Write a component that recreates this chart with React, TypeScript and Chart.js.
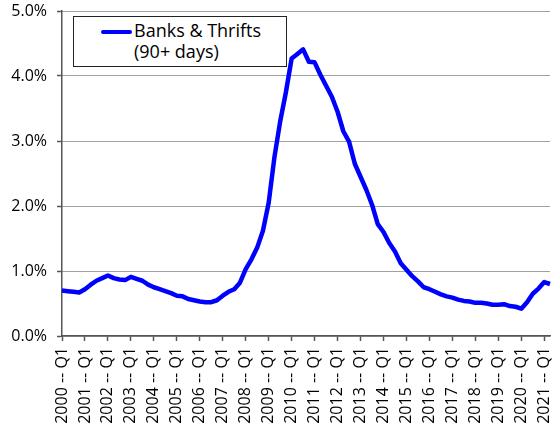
import { useEffect, useRef } from 'react';
import { Chart, registerables } from 'chart.js';

Chart.register(...registerables);

// ---- data: quarterly, 2000 Q1 .. 2021 Q2 ----
const YEARS = [
  2000, 2001, 2002, 2003, 2004, 2005, 2006, 2007, 2008, 2009, 2010,
  2011, 2012, 2013, 2014, 2015, 2016, 2017, 2018, 2019, 2020, 2021,
];
const QUARTERS = ['Q1', 'Q2', 'Q3', 'Q4'];
const LAST_QUARTER_2021 = 2; // series stops at 2021 Q2

const LABELS: string[] = [];
YEARS.forEach(y => {
  const n = y === 2021 ? LAST_QUARTER_2021 : 4;
  for (let q = 0; q < n; q++) LABELS.push(`${y} -- ${QUARTERS[q]}`);
});

const SERIES_NAME = ['Banks & Thrifts', '(90+ days)'];

// percent of balance 90+ days delinquent
const BANKS_THRIFTS = [
  0.70, 0.69, 0.68, 0.67, // 2000
  0.72, 0.79, 0.85, 0.89, // 2001
  0.93, 0.89, 0.87, 0.86, // 2002
  0.91, 0.88, 0.85, 0.79, // 2003
  0.75, 0.72, 0.69, 0.66, // 2004
  0.62, 0.61, 0.57, 0.55, // 2005
  0.53, 0.52, 0.52, 0.55, // 2006
  0.62, 0.68, 0.72, 0.82, // 2007
  1.03, 1.18, 1.36, 1.62, // 2008
  2.05, 2.75, 3.30, 3.75, // 2009
  4.27, 4.34, 4.41, 4.22, // 2010
  4.21, 4.02, 3.85, 3.68, // 2011
  3.45, 3.15, 2.99, 2.65, // 2012
  2.45, 2.25, 2.02, 1.72, // 2013
  1.60, 1.43, 1.30, 1.12, // 2014
  1.02, 0.92, 0.84, 0.75, // 2015
  0.72, 0.68, 0.64, 0.61, // 2016
  0.59, 0.56, 0.54, 0.53, // 2017
  0.51, 0.51, 0.50, 0.48, // 2018
  0.48, 0.49, 0.46, 0.45, // 2019
  0.42, 0.52, 0.65, 0.73, // 2020
  0.83, 0.80,             // 2021
];

const Y_MIN = 0;
const Y_MAX = 5;
const Y_STEP = 1;

const FONT = "'Open Sans', sans-serif";
const AXIS = '#555555';
const GRID = '#444444';
const BLUE = '#0000ff';

export default function App() {
  const canvasRef = useRef<HTMLCanvasElement>(null);
  const chartRef = useRef<Chart | null>(null);

  useEffect(() => {
    document.body.style.margin = '0';
    if (!canvasRef.current) return;
    chartRef.current?.destroy();
    chartRef.current = new Chart(canvasRef.current, {
      type: 'line',
      data: {
        labels: LABELS,
        datasets: [{
          label: SERIES_NAME.join(' '),
          data: BANKS_THRIFTS,
          borderColor: BLUE,
          borderWidth: 4.5,
          pointRadius: 0,
          tension: 0,
          fill: false,
          borderJoinStyle: 'round',
        }],
      },
      options: {
        animation: false,
        responsive: true,
        maintainAspectRatio: false,
        events: [],
        layout: { padding: { top: 11, right: 4, left: 0, bottom: 0 } },
        plugins: {
          legend: { display: false },
          tooltip: { enabled: false },
        },
        scales: {
          x: {
            type: 'category',
            offset: false,
            grid: {
              drawOnChartArea: false,
              drawTicks: true,
              tickLength: 5,
              tickWidth: 1.5,
              color: c => (c.index % 4 === 0 ? AXIS : 'transparent'),
            },
            border: { color: AXIS, width: 1.5 },
            ticks: {
              autoSkip: false,
              maxRotation: 90,
              minRotation: 90,
              padding: 6,
              color: '#000',
              font: { family: FONT, size: 16 },
              callback: (_v, i) => (i % 4 === 0 ? LABELS[i] : ''),
            },
            afterFit: s => {
              s.height = 95;
              s.paddingLeft = 0;
              s.paddingRight = 0;
            },
          },
          y: {
            min: Y_MIN,
            max: Y_MAX,
            ticks: {
              stepSize: Y_STEP,
              padding: 10,
              color: '#000',
              font: { family: FONT, size: 16 },
              callback: v => `${Number(v).toFixed(1)}%`,
            },
            grid: {
              color: GRID,
              lineWidth: 1,
              tickColor: AXIS,
              tickLength: 5,
              tickWidth: 1.5,
              tickBorderDash: [],
            },
            border: { color: AXIS, width: 1.5, dash: [1, 1] },
            afterFit: s => {
              s.width = 62;
              s.paddingTop = 0;
              s.paddingBottom = 0;
            },
          },
        },
      },
    });
    return () => { chartRef.current?.destroy(); };
  }, []);

  return (
    <div style={{ position: 'relative', width: 554, height: 431, background: '#fff' }}>
      <canvas ref={canvasRef} />
      {/* legend box */}
      <div style={{
        position: 'absolute', left: 73, top: 16, width: 212, height: 49,
        border: '1px solid #222', background: '#fff', boxSizing: 'content-box',
      }} />
      <div style={{
        position: 'absolute', left: 101, top: 30, width: 31, height: 4,
        background: BLUE, borderRadius: 2,
      }} />
      <div style={{
        position: 'absolute', left: 134, top: 20,
        fontFamily: FONT, fontSize: 18, lineHeight: '21px', color: '#000',
        whiteSpace: 'nowrap',
      }}>
        {SERIES_NAME.map(t => <div key={t}>{t}</div>)}
      </div>
    </div>
  );
}
